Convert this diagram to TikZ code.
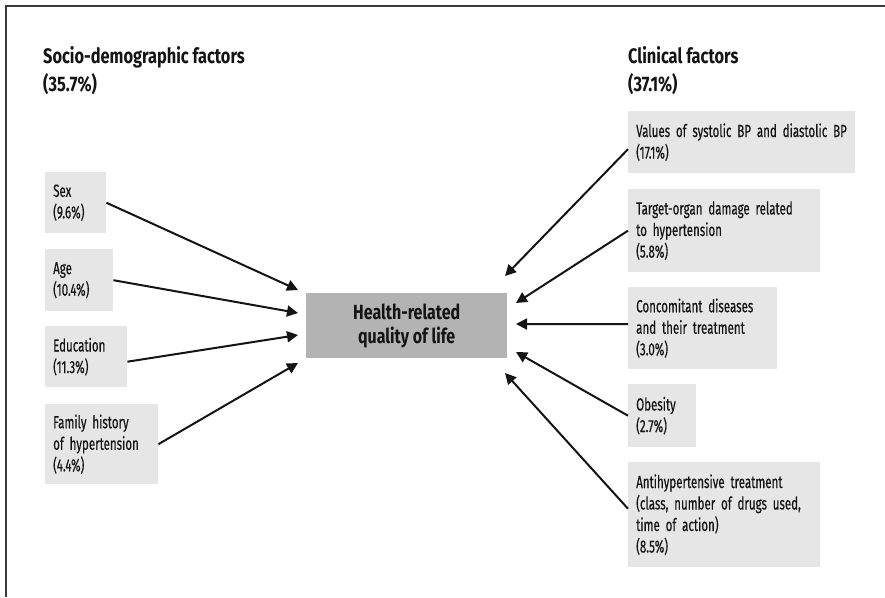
\documentclass[tikz,border=0pt]{standalone}
\usepackage{fontspec}
\setmainfont{Fira Sans}[FakeStretch=0.66, UprightFeatures={FakeBold=0.4}, BoldFeatures={FakeStretch=0.78}]
\usetikzlibrary{arrows.meta}
\definecolor{boxgray}{HTML}{E6E6E6}
\definecolor{coregray}{HTML}{B3B3B3}
\definecolor{framegray}{HTML}{3A3A3A}
\definecolor{inkblack}{HTML}{141414}
\newcommand\factorfont{\fontsize{17.5}{21.5}\selectfont}
\newcommand\headfont{\bfseries\fontsize{21}{28}\selectfont}
\newcommand\corefont{\bfseries\fontsize{20.5}{24}\selectfont}
\tikzset{
	factor/.style 2 args={fill=boxgray, anchor=north west, align=left, inner xsep=8pt, inner ysep=0pt, text width=#1, minimum height=#2, font=\factorfont, text=inkblack},
	core/.style={fill=coregray, anchor=north west, align=center, inner sep=0pt, minimum width=201pt, minimum height=65pt, font=\corefont, text=inkblack},
	heading/.style={anchor=north west, align=left, inner sep=0pt, font=\headfont, text=inkblack},
	link/.style={line width=2pt, color=inkblack, -{Triangle[length=11pt,width=11pt]}}
}

\begin{document}
\begin{tikzpicture}[x=1pt, y=-1pt]
		%%%%% START %%%%%
		\useasboundingbox (0,0) rectangle (885,597);
		\draw[line width=2pt, color=framegray] (885,6) -- (6,6) -- (6,597);
		
		\node[heading] (socio) at (43,46) {Socio-demographic factors\\(35.7\%)};
		\node[heading] (clinic) at (628,46) {Clinical factors\\(37.1\%)};
		
		\node[core] (hrql) at (306,293) {Health-related\\quality of life};
		
		% socio-demographic side
		\node[factor={45pt}{61pt}] (sex) at (45,172) {Sex\\(9.6\%)};
		\node[factor={52pt}{62pt}] (age) at (45,249) {Age\\(10.4\%)};
		\node[factor={66pt}{61pt}] (edu) at (45,326) {Education\\(11.3\%)};
		\node[factor={97pt}{80pt}] (family) at (45,404) {Family history\\of hypertension\\(4.4\%)};
		
		% clinical side
		\node[factor={211pt}{62pt}] (bp) at (628,111) {Values of systolic BP and diastolic BP\\(17.1\%)};
		\node[factor={176pt}{83pt}] (organ) at (628,189) {Target-organ damage related\\to hypertension\\(5.8\%)};
		\node[factor={133pt}{82pt}] (conc) at (628,287) {Concomitant diseases\\and their treatment\\(3.0\%)};
		\node[factor={52pt}{63pt}] (obese) at (628,384) {Obesity\\(2.7\%)};
		\node[factor={176pt}{105pt}] (drugs) at (628,462) {Antihypertensive treatment\\(class, number of drugs used,\\time of action)\\(8.5\%)};
		
		\coordinate (inSex) at (298,290);
		\coordinate (inAge) at (298,313);
		\coordinate (inEdu) at (298,335);
		\coordinate (inFamily) at (298,363);
		\coordinate (inBp) at (505,276);
		\coordinate (inOrgan) at (516,303);
		\coordinate (inConc) at (516,324);
		\coordinate (inObese) at (516,352);
		\coordinate (inDrugs) at (505,373);
		
		\draw[link] (sex.east) -- (inSex);
		\draw[link] (age.east) -- (inAge);
		\draw[link] ([yshift=-5pt]edu.east) -- (inEdu);
		\draw[link] (family.east) -- (inFamily);
		
		\draw[link] ([yshift=-7pt]bp.west) -- (inBp);
		\draw[link] (organ.west) -- (inOrgan);
		\draw[link] ([yshift=4pt]conc.west) -- (inConc);
		\draw[link] (obese.west) -- (inObese);
		\draw[link] ([yshift=6pt]drugs.west) -- (inDrugs);
		
		%%%%% END %%%%%
\end{tikzpicture}
\end{document}
